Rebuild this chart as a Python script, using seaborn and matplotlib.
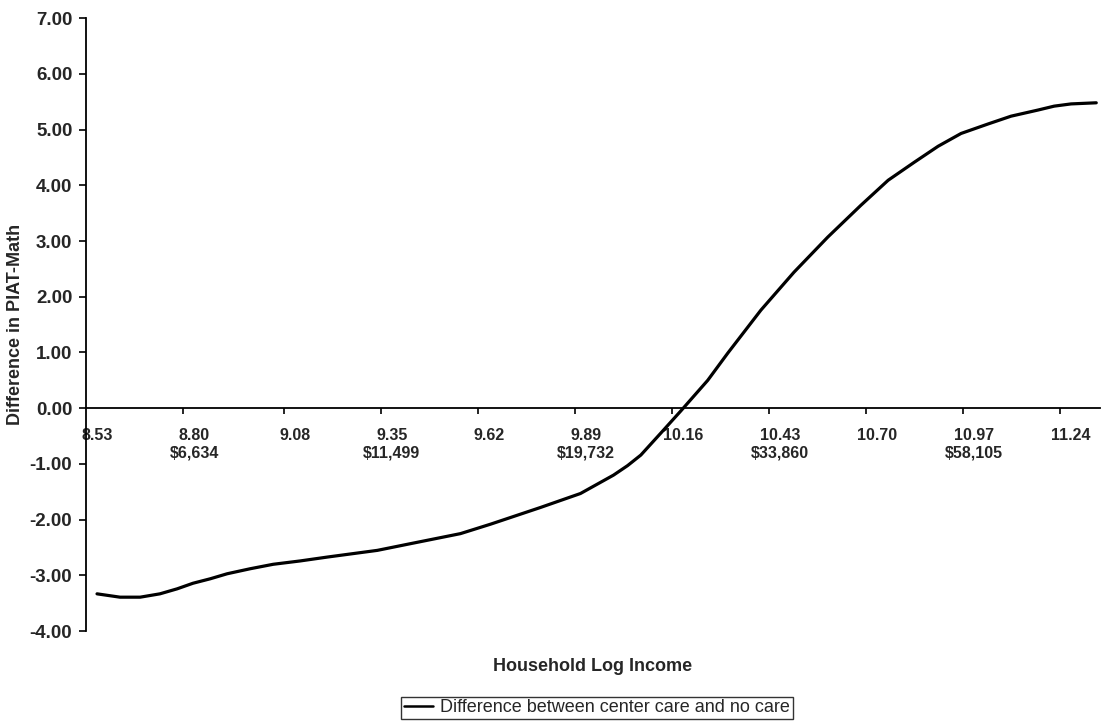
import matplotlib
matplotlib.use("Agg")
import matplotlib.pyplot as plt
import seaborn as sns
import pandas as pd

# values
log_income = [8.530, 8.594, 8.650, 8.705, 8.753, 8.797, 8.845, 8.892, 8.956, 9.020,
              9.095, 9.171, 9.310, 9.402, 9.541, 9.625, 9.764, 9.875, 9.967, 10.006,
              10.043, 10.098, 10.154, 10.229, 10.285, 10.377, 10.469, 10.563, 10.655, 10.731,
              10.803, 10.870, 10.934, 11.009, 11.073, 11.148, 11.193, 11.240, 11.310]
difference = [-3.33, -3.39, -3.39, -3.33, -3.24, -3.14, -3.06, -2.97, -2.88, -2.80,
              -2.74, -2.67, -2.55, -2.43, -2.25, -2.08, -1.78, -1.53, -1.20, -1.03,
              -0.84, -0.45, -0.05, 0.50, 0.99, 1.76, 2.44, 3.07, 3.64, 4.09,
              4.41, 4.70, 4.93, 5.10, 5.24, 5.35, 5.42, 5.46, 5.48]

tick_values = [8.53, 8.80, 9.08, 9.35, 9.62, 9.89, 10.16, 10.43, 10.70, 10.97, 11.24]
tick_labels = ['8.53', '8.80\n$6,634', '9.08', '9.35\n$11,499', '9.62', '9.89\n$19,732',
               '10.16', '10.43\n$33,860', '10.70', '10.97\n$58,105', '11.24']
y_ticks = [-4, -3, -2, -1, 0, 1, 2, 3, 4, 5, 6, 7]

series_name = 'Difference between center care and no care'

sns.set_theme(style='white')
plt.rcParams['font.family'] = ['Liberation Sans', 'DejaVu Sans']

df = pd.DataFrame({'x': log_income, 'y': difference, 'series': series_name})

fig = plt.figure(figsize=(11.2, 7.23), dpi=100)
ax = fig.add_axes([0.077, 0.127, 0.905, 0.848])

sns.lineplot(data=df, x='x', y='y', hue='series', palette=['black'],
             linewidth=2.3, ax=ax, legend=False)

ax.set_xlim(8.50, 11.32)
ax.set_ylim(-4, 7)

# axis through zero
for s in ['top', 'right']:
    ax.spines[s].set_visible(False)
ax.spines['bottom'].set_position(('data', 0))
ax.spines['bottom'].set_color('black')
ax.spines['bottom'].set_linewidth(1.3)
ax.spines['left'].set_color('black')
ax.spines['left'].set_linewidth(1.3)

ax.set_yticks(y_ticks)
ax.set_yticklabels([f'{v:.2f}' for v in y_ticks], fontsize=13.5, fontweight='bold')
ax.tick_params(axis='y', direction='out', length=5, width=1.2, color='black', pad=5,
               left=True)

# tick marks sit a little left of their labels, as in the original
ax.set_xticks([v - 0.03 for v in tick_values[1:]])
ax.set_xticklabels([])
ax.tick_params(axis='x', which='major', direction='out', length=4, width=1.2,
               color='black', bottom=True)
ax.set_xticks(tick_values, minor=True)
ax.set_xticklabels(tick_labels, minor=True, fontsize=11.5, fontweight='bold',
                   linespacing=1.2)
ax.tick_params(axis='x', which='minor', length=0, pad=14, bottom=True)

ax.set_xlabel('Household Log Income', fontsize=13, fontweight='bold')
ax.xaxis.set_label_coords(0.5, -0.043)
ax.set_ylabel('Difference in PIAT-Math', fontsize=13, fontweight='bold')
ax.yaxis.set_label_coords(-0.061, 0.5)

handle = plt.Line2D([], [], color='black', linewidth=1.8)
leg = fig.legend([handle], [series_name], loc='center', bbox_to_anchor=(0.533, 0.021),
                 fontsize=13, frameon=True, fancybox=False, handlelength=1.6,
                 handletextpad=0.4, borderpad=0.15, borderaxespad=0)
leg.get_frame().set_edgecolor('black')
leg.get_frame().set_linewidth(1.0)

fig.savefig('out.png', dpi=100)
